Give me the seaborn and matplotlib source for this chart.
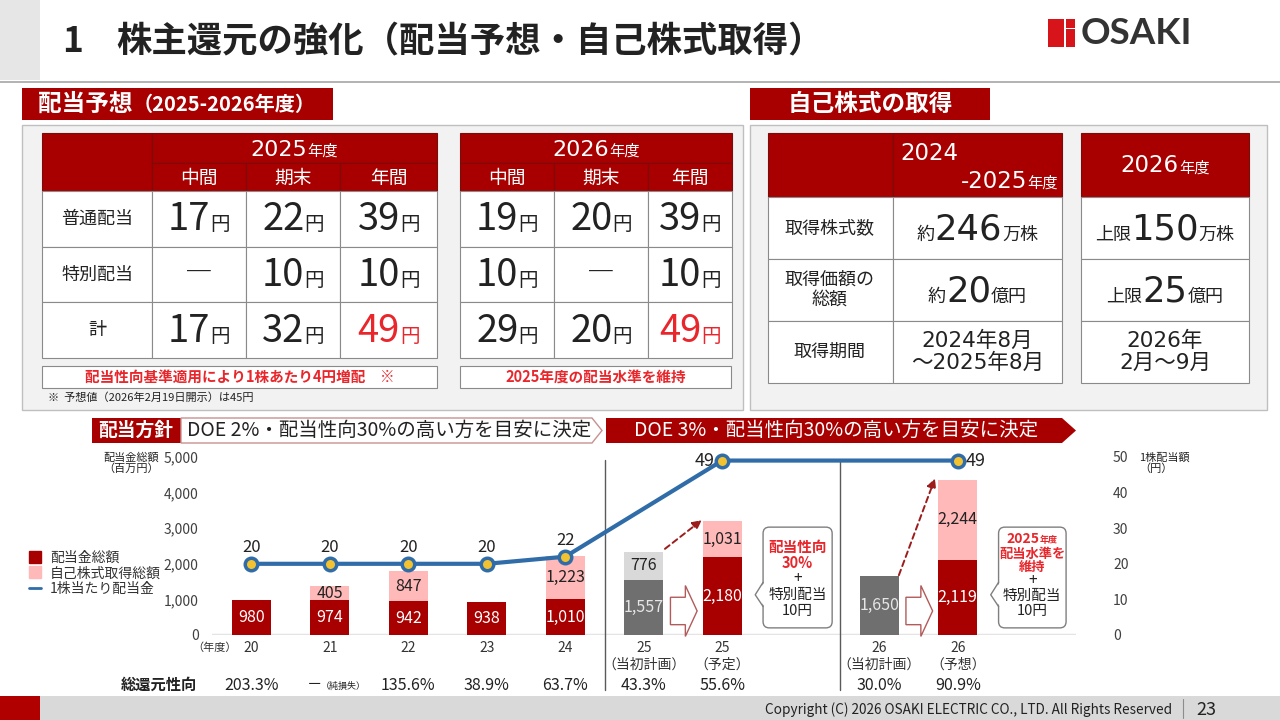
import matplotlib
matplotlib.use("Agg")
import matplotlib.pyplot as plt
import matplotlib.patches as mpatches
import matplotlib.transforms as mtransforms
from matplotlib.lines import Line2D
from matplotlib.ticker import FuncFormatter
from matplotlib.offsetbox import TextArea, HPacker, AnnotationBbox
import seaborn as sns
import pandas as pd

# ---------------------------------------------------------------------------
# Data
# ---------------------------------------------------------------------------
TABLE_COLS = ["中間", "期末", "年間"]
TABLE_ROWS = ["普通配当", "特別配当", "計"]
DIV_2025 = [[17, 22, 39], [None, 10, 10], [17, 32, 49]]
DIV_2026 = [[19, 20, 39], [10, None, 10], [29, 20, 49]]

BUYBACK_ROWS = ["取得株式数", "取得価額の\n総額", "取得期間"]
BUYBACK_2425 = [("約", "246", "万株"), ("約", "20", "億円"), "2024年8月\n～2025年8月"]
BUYBACK_2026 = [("上限", "150", "万株"), ("上限", "25", "億円"), "2026年\n2月～9月"]

CHART_SLOTS = ["20", "21", "22", "23", "24", "25計画", "25予定", "_a", "26計画", "26予想", "_b"]
TICK_LABELS = ["20", "21", "22", "23", "24", "25\n（当初計画）", "25\n（予定）", "",
               "26\n（当初計画）", "26\n（予想）", ""]
BAR_SLOTS = ["20", "21", "22", "23", "24", "25計画", "25予定", "26計画", "26予想"]
DIVIDEND_TOTAL = [980, 974, 942, 938, 1010, 1557, 2180, 1650, 2119]
BUYBACK_TOTAL = [0, 405, 847, 0, 1223, 776, 1031, 0, 2244]
PLAN_SLOTS = ["25計画", "26計画"]
DPS_SLOTS = ["20", "21", "22", "23", "24", "25予定", "26予想"]
DPS = [20, 20, 20, 20, 22, 49, 49]
TOTAL_PAYOUT = ["203.3%", "－", "135.6%", "38.9%", "63.7%", "43.3%", "55.6%", "30.0%", "90.9%"]

RED = "#a80000"
PINK = "#ffb9b9"
GRAY = "#6f6f6f"
LGRAY = "#d9d9d9"
BLUE = "#2f6ca8"
GOLD = "#f2c230"
BRIGHT = "#e8262b"
INK = "#222222"

sns.set_theme(style="white")
plt.rcParams["font.family"] = ["Noto Sans CJK JP", "DejaVu Sans"]
WIDE = ["DejaVu Sans", "Noto Sans CJK JP"]

fig = plt.figure(figsize=(12.8, 7.2), dpi=100)
fig.patch.set_facecolor("white")

# background axes in pixel coordinates (y down)
bg = fig.add_axes([0, 0, 1, 1], zorder=0)
bg.set_xlim(0, 1280)
bg.set_ylim(720, 0)
bg.axis("off")


def rect(x0, y0, x1, y1, fc, ec="none", lw=0.8, z=1):
    bg.add_patch(mpatches.Rectangle((x0, y0), x1 - x0, y1 - y0, facecolor=fc,
                                    edgecolor=ec, linewidth=lw, zorder=z))


def txt(x, y, s, size, color=INK, weight="normal", ha="center", va="center", **kw):
    bg.text(x, y, s, fontsize=size, color=color, fontweight=weight, ha=ha, va=va,
            zorder=5, **kw)


def mixed(x, y, parts, ax=None, align=(0.5, 0.5)):
    ax = ax or bg
    areas = []
    for part in parts:
        t, s, c, w = part[:4]
        props = dict(fontsize=s, color=c, fontweight=w)
        if len(part) > 4:
            props["family"] = part[4]
        areas.append(TextArea(t, textprops=props))
    box = HPacker(children=areas, align="baseline", pad=0, sep=0)
    ab = AnnotationBbox(box, (x, y), xycoords="data", frameon=False,
                        box_alignment=align, pad=0, annotation_clip=False)
    ab.set_zorder(6)
    ax.add_artist(ab)


# ---------------------------------------------------------------------------
# Header / footer
# ---------------------------------------------------------------------------
rect(0, 0, 40, 80, "#e6e6e6")
bg.plot([0, 1280], [82, 82], color="#a6a6a6", lw=1.2, zorder=2)
txt(62, 42, "1", 25.5, weight="bold", ha="left")
txt(116, 42, "株主還元の強化（配当予想・自己株式取得）", 25.5, weight="bold", ha="left")

rect(1048, 19, 1064, 47, "#d7141a")
for y0 in (19, 28.5, 38):
    rect(1065.5, y0, 1075, y0 + 9, "#d7141a")
bg.text(1081, 34, "OSAKI", fontsize=26.5, fontweight="bold", color="#333333",
        family="Lato", ha="left", va="center", zorder=5)

rect(0, 696, 1280, 720, "#d9d9d9")
rect(0, 696, 40, 720, "#b00000")
txt(1172, 710, "Copyright (C) 2026 OSAKI ELECTRIC CO., LTD. All Rights Reserved", 9.8,
    ha="right")
bg.plot([1183, 1183], [699, 718], color="#8c8c8c", lw=0.8, zorder=2)
txt(1206, 710, "23", 13)

# ---------------------------------------------------------------------------
# Dividend forecast tables
# ---------------------------------------------------------------------------
rect(22, 88, 333, 120, RED)
mixed(38, 104, [("配当予想", 17, "white", "bold"), ("（2025-2026年度）", 14.5, "white", "bold")],
      align=(0, 0.5))
rect(22, 125, 743, 410, "#f2f2f2", ec="#bfbfbf", lw=1)

ROW_Y = [191, 247, 302, 358]


def dividend_table(xs, values, with_labels, year):
    hdr_ec = "#7a0c0c"
    cell_ec = "#8a8a8a"
    first = 1 if with_labels else 0
    if with_labels:
        rect(xs[0], 133, xs[1], 191, RED, ec=hdr_ec)
    rect(xs[first], 133, xs[-1], 163, RED, ec=hdr_ec)
    mixed((xs[first] + xs[-1]) / 2, 150, [(year, 16, "white", "normal", WIDE),
                                          ("年度", 11, "white", "normal")])
    for j, col in enumerate(TABLE_COLS):
        x0, x1 = xs[first + j], xs[first + j + 1]
        rect(x0, 163, x1, 191, RED, ec=hdr_ec)
        txt((x0 + x1) / 2, 178, col, 13.5, color="white")
    for i, row in enumerate(TABLE_ROWS):
        y0, y1 = ROW_Y[i], ROW_Y[i + 1]
        yc = (y0 + y1) / 2
        if with_labels:
            rect(xs[0], y0, xs[1], y1, "white", ec=cell_ec)
            txt((xs[0] + xs[1]) / 2, yc, row, 13)
        for j in range(3):
            x0, x1 = xs[first + j], xs[first + j + 1]
            rect(x0, y0, x1, y1, "white", ec=cell_ec)
            v = values[i][j]
            if v is None:
                txt((x0 + x1) / 2, yc, "―", 20)
            else:
                col = BRIGHT if (i == 2 and j == 2) else INK
                mixed((x0 + x1) / 2, yc + 1, [(f"{v}", 27.5, col, "normal"),
                                              ("円", 14, col, "normal")])


dividend_table([42, 152, 246, 340, 437], DIV_2025, True, "2025")
dividend_table([460, 554, 648, 732], DIV_2026, False, "2026")

rect(42, 366, 437, 388, "white", ec="#8a8a8a")
txt(240, 377, "配当性向基準適用により1株あたり4円増配　※", 10.5, color=BRIGHT, weight="bold")
rect(460, 366, 731, 388, "white", ec="#8a8a8a")
txt(596, 377, "2025年度の配当水準を維持", 10.5, color=BRIGHT, weight="bold")
txt(48, 398, "※  予想値（2026年2月19日開示）は45円", 8, ha="left")

# ---------------------------------------------------------------------------
# Share buyback tables
# ---------------------------------------------------------------------------
rect(750, 88, 990, 120, RED)
txt(870, 104, "自己株式の取得", 17, color="white", weight="bold")
rect(750, 125, 1267, 410, "#f2f2f2", ec="#bfbfbf", lw=1)

BB_Y = [197, 259, 321, 383]
rect(768, 133, 893, 197, RED, ec="#7a0c0c")
rect(893, 133, 1062, 197, RED, ec="#7a0c0c")
bg.text(900, 154, "2024", fontsize=16.5, color="white", family=WIDE, ha="left", va="center",
        zorder=5)
mixed(1058, 181, [("-2025", 16.5, "white", "normal", WIDE), ("年度", 11, "white", "normal")],
      align=(1, 0.5))
rect(1081, 133, 1249, 197, RED, ec="#7a0c0c")
mixed(1165, 166, [("2026", 16.5, "white", "normal", WIDE), ("年度", 11, "white", "normal")])

for i, row in enumerate(BUYBACK_ROWS):
    y0, y1 = BB_Y[i], BB_Y[i + 1]
    yc = (y0 + y1) / 2
    rect(768, y0, 893, y1, "white", ec="#8a8a8a")
    txt(830, yc, row, 13, linespacing=1.15)
    for (x0, x1), val in (((893, 1062), BUYBACK_2425[i]), ((1081, 1249), BUYBACK_2026[i])):
        rect(x0, y0, x1, y1, "white", ec="#8a8a8a")
        if isinstance(val, tuple):
            pre, num, post = val
            mixed((x0 + x1) / 2, yc + 2, [(pre, 13, INK, "normal"),
                                          (num, 25.5, INK, "normal", WIDE),
                                          (post, 13, INK, "normal")])
        else:
            bg.text((x0 + x1) / 2, yc, val, fontsize=15.5, color=INK, family=WIDE,
                    ha="center", va="center", linespacing=1.1, zorder=5)

# ---------------------------------------------------------------------------
# Policy banner
# ---------------------------------------------------------------------------
rect(92, 418, 181, 443, RED)
txt(136, 430.5, "配当方針", 13.5, color="white", weight="bold")
bg.add_patch(mpatches.Polygon([(181, 418), (592, 418), (602, 430.5), (592, 443), (181, 443)],
                              closed=True, facecolor="white", edgecolor="#c89090", lw=1, zorder=1))
txt(389, 430.5, "DOE 2%・配当性向30%の高い方を目安に決定", 14)
bg.add_patch(mpatches.Polygon([(606, 418), (1062, 418), (1076, 430.5), (1062, 443), (606, 443)],
                              closed=True, facecolor=RED, edgecolor="none", zorder=1))
txt(836, 430.5, "DOE 3%・配当性向30%の高い方を目安に決定", 14, color="white")

# ---------------------------------------------------------------------------
# Chart
# ---------------------------------------------------------------------------
ax = fig.add_axes([212 / 1280, 85 / 720, 863.5 / 1280, 178 / 720], zorder=2)
ax.patch.set_alpha(0)

bars = pd.DataFrame({"slot": BAR_SLOTS, "dividend": DIVIDEND_TOTAL, "buyback": BUYBACK_TOTAL})
bars["stack"] = bars["dividend"] + bars["buyback"]
top_pal = {s: (LGRAY if s == "25計画" else PINK) for s in BAR_SLOTS}
low_pal = {s: (GRAY if s in PLAN_SLOTS else RED) for s in BAR_SLOTS}

sns.barplot(data=bars, x="slot", y="stack", hue="slot", order=CHART_SLOTS, hue_order=BAR_SLOTS,
            palette=top_pal, width=0.5, saturation=1, legend=False, linewidth=0, ax=ax)
sns.barplot(data=bars, x="slot", y="dividend", hue="slot", order=CHART_SLOTS, hue_order=BAR_SLOTS,
            palette=low_pal, width=0.5, saturation=1, legend=False, linewidth=0, ax=ax)

for s, d, b in zip(BAR_SLOTS, DIVIDEND_TOTAL, BUYBACK_TOTAL):
    x = CHART_SLOTS.index(s)
    low_col = "#e6e6e6" if s in PLAN_SLOTS else "white"
    ax.text(x, d / 2, f"{d:,}", ha="center", va="center", fontsize=11.5, color=low_col, zorder=5)
    if b:
        ax.text(x, d + b / 2, f"{b:,}", ha="center", va="center", fontsize=11.5, color=INK,
                zorder=5)

ax.axhline(0, color="#e4e4e4", lw=2.5, zorder=0.5)
ax.set_ylim(0, 5000)
ax.set_yticks(range(0, 5001, 1000))
ax.yaxis.set_major_formatter(FuncFormatter(lambda v, _: f"{int(v):,}"))
ax.set_xticks(range(len(CHART_SLOTS)))
ax.set_xticklabels(TICK_LABELS, fontsize=10, color="#333333", linespacing=1.25)
ax.tick_params(axis="y", length=0, pad=9.5, labelsize=10, labelcolor="#404040")
ax.tick_params(axis="x", length=0, pad=4)
ax.set_xlabel("")
ax.set_ylabel("")
for sp in ax.spines.values():
    sp.set_visible(False)

for xs in (4.5, 7.5):
    ax.axvline(xs, ymin=-0.31, ymax=0.985, color="#5a5a5a", lw=1, clip_on=False, zorder=1)

# block arrows plan -> forecast
for base in (5, 8):
    x0, x1, x2 = base + 0.34, base + 0.53, base + 0.68
    ax.add_patch(mpatches.Polygon([(x0, 290), (x1, 290), (x1, -40), (x2, 675), (x1, 1390),
                                   (x1, 1060), (x0, 1060)], closed=True, facecolor="white",
                                  edgecolor="#b35a5a", lw=1, clip_on=False, zorder=3))

# dashed arrows
for start, end in (((5.27, 2420), (5.74, 3230)), ((8.25, 1680), (8.71, 4400))):
    ax.annotate("", xy=end, xytext=start, annotation_clip=False,
                arrowprops=dict(arrowstyle="-|>,head_length=0.45,head_width=0.22",
                                color="#9c1c1c", lw=1.4, ls=(0, (3, 2)), shrinkA=0, shrinkB=0))


def callout(x0, x1, y0, y1, tip_x, tip_y, yb0, yb1):
    ax.add_patch(mpatches.FancyBboxPatch((x0, y0), x1 - x0, y1 - y0,
                                         boxstyle="round,pad=0,rounding_size=0.08",
                                         mutation_aspect=2205, facecolor="white",
                                         edgecolor="#7f7f7f", lw=1, clip_on=False, zorder=3))
    ax.add_patch(mpatches.Polygon([(x0 + 0.02, yb0), (tip_x, tip_y), (x0 + 0.02, yb1)],
                                  closed=True, facecolor="white", edgecolor="none",
                                  clip_on=False, zorder=4))
    ax.plot([x0, tip_x, x0], [yb0, tip_y, yb1], color="#7f7f7f", lw=1, clip_on=False, zorder=4)


def note(x, y, s, size, color=INK, weight="normal"):
    ax.text(x, y, s, ha="center", va="center", fontsize=size, color=color,
            fontweight=weight, zorder=6)


callout(6.52, 7.40, 200, 3030, 6.42, 1130, 800, 1480)
cx = 6.96
note(cx, 2470, "配当性向", 10.5, BRIGHT, "bold")
note(cx, 2030, "30%", 10.5, BRIGHT, "bold")
note(cx, 1600, "+", 11)
note(cx, 1120, "特別配当", 10.5)
note(cx, 680, "10円", 10.5)

callout(9.52, 10.38, 200, 3030, 9.42, 1130, 800, 1480)
cx = 9.95
mixed(cx, 2690, [("2025", 10, BRIGHT, "bold"), ("年度", 6.5, BRIGHT, "bold")], ax=ax)
note(cx, 2290, "配当水準を", 9.5, BRIGHT, "bold")
note(cx, 1900, "維持", 9.5, BRIGHT, "bold")
note(cx, 1530, "+", 11)
note(cx, 1110, "特別配当", 10.5)
note(cx, 680, "10円", 10.5)

# dividend per share line on secondary axis
ax2 = ax.twinx()
dps_x = [CHART_SLOTS.index(s) for s in DPS_SLOTS]
sns.lineplot(x=dps_x, y=DPS, ax=ax2, color=BLUE, lw=3, marker="o", markersize=9,
             markerfacecolor=GOLD, markeredgecolor=BLUE, markeredgewidth=2.5, sort=False,
             clip_on=False, zorder=5)
ax2.set_ylim(0, 50)
ax2.set_yticks(range(0, 51, 10))
ax2.tick_params(axis="y", length=0, pad=27, labelsize=10, labelcolor="#404040")
ax2.set_ylabel("")
for sp in ax2.spines.values():
    sp.set_visible(False)
for x, v in zip(dps_x, DPS):
    if v == 49:
        dx, ha = (-0.1, "right") if x == 6 else (0.1, "left")
        ax2.text(x + dx, v, f"{v}", ha=ha, va="center", fontsize=13, color=INK, zorder=6)
    else:
        ax2.text(x, v + 4.6, f"{v}", ha="center", va="center", fontsize=12, color=INK, zorder=6)
ax.set_xlim(-0.5, 10.5)
ax2.set_xlim(-0.5, 10.5)

# axis titles
txt(103, 463, "配当金総額\n（百万円）", 8, ha="left", linespacing=1.1)
txt(1139, 463, "1株配当額\n（円）", 8, ha="left", linespacing=1.1)

blend = mtransforms.blended_transform_factory(ax.transData, bg.transData)
bg.text(-0.47, 648, "（年度）", transform=blend, fontsize=8, ha="center", va="center",
        color="#333333")

# total shareholder return row
txt(159, 685, "総還元性向", 11, weight="bold")
for s, lab in zip(BAR_SLOTS, TOTAL_PAYOUT):
    x = CHART_SLOTS.index(s)
    if lab == "－":
        bg.text(x - 0.2, 685, "－", transform=blend, fontsize=11, ha="center", va="center",
                color=INK)
        bg.text(x - 0.11, 686, "（純損失）", transform=blend, fontsize=6.5, ha="left",
                va="center", color=INK)
    else:
        bg.text(x, 685, lab, transform=blend, fontsize=11.5, ha="center", va="center", color=INK)

# legend
handles = [Line2D([], [], marker="s", ls="none", color=RED, markersize=8),
           Line2D([], [], marker="s", ls="none", color=PINK, markersize=8),
           Line2D([], [], color=BLUE, lw=2)]
fig.legend(handles, ["配当金総額", "自己株式取得総額", "1株当たり配当金"], loc="upper left",
           bbox_to_anchor=(22 / 1280, 1 - 544 / 720), frameon=False, fontsize=10,
           handlelength=0.9, handletextpad=0.6, labelspacing=0.1, borderpad=0,
           labelcolor="#333333")

fig.savefig("out.png", dpi=100)
